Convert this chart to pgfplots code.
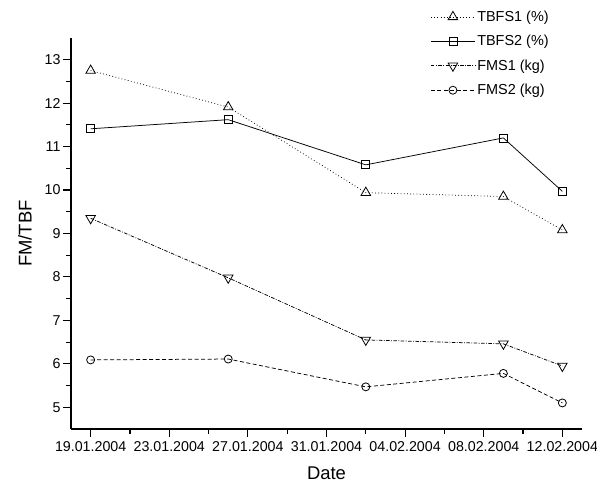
\documentclass[border=0pt]{standalone}
\usepackage{pgfplots}
\pgfplotsset{compat=1.18}
\usepackage{fontspec}
\setmainfont{Liberation Sans}
\begin{document}
\begin{tikzpicture}
\begin{axis}[
  name=ax,
  scale only axis,
  width=511bp, height=391bp,
  xmin=-1, xmax=25, ymin=4.5, ymax=13.5,
  axis lines=left,
  axis line style={-, line width=1.2bp},
  every tick/.style={line width=1.1bp, black},
  tick align=outside,
  major tick length=8bp, minor tick length=5bp,
  xtick={0,4,8,12,16,20,24},
  xticklabels={19.01.2004,23.01.2004,27.01.2004,31.01.2004,04.02.2004,08.02.2004,12.02.2004},
  minor x tick num=1,
  ytick={5,6,...,13},
  minor y tick num=1,
  /pgf/number format/assume math mode=true,
  tick label style={font=\fontsize{14.3}{16}\selectfont},
  xticklabel style={yshift=-1bp},
  yticklabel style={xshift=1bp},
  label style={font=\fontsize{18.5}{22}\selectfont},
  xlabel={Date}, ylabel={FM/TBF},
  xlabel style={yshift=-8bp},
  ylabel style={yshift=6bp},
  legend style={at={(rel axis cs:0.945,1.08)}, anchor=north east, draw=none, fill=none,
    font=\fontsize{14.5}{16}\selectfont, row sep=8.5bp},
  legend cell align=left,
  legend image code/.code={\draw[mark repeat=2,mark phase=2,#1] plot coordinates {(0bp,0bp) (22bp,0bp) (44bp,0bp)};},
  every axis plot/.append style={black, line width=0.75bp},
]
\addplot[dash pattern=on 0.8bp off 2.4bp, mark=triangle, mark size=5.5bp, mark options={solid, fill=white, line width=0.8bp}] coordinates {(0,12.75) (7,11.91) (14,9.94) (21,9.85) (24,9.08)};
\addlegendentry{TBFS1 (\%)}
\addplot[solid, mark=square, mark size=4bp, mark options={solid, fill=white, line width=0.8bp}] coordinates {(0,11.41) (7,11.62) (14,10.58) (21,11.2) (24,9.97)};
\addlegendentry{TBFS2 (\%)}
\addplot[dash pattern=on 3.5bp off 1.5bp on 0.8bp off 1.5bp, mark=triangle, mark size=5.5bp, mark options={solid, fill=white, line width=0.8bp, rotate=180}] coordinates {(0,9.35) (7,7.98) (14,6.55) (21,6.46) (24,5.95)};
\addlegendentry{FMS1 (kg)}
\addplot[dash pattern=on 4bp off 2.5bp, mark=o, mark size=4bp, mark options={solid, fill=white, line width=0.8bp}] coordinates {(0,6.09) (7,6.11) (14,5.47) (21,5.78) (24,5.10)};
\addlegendentry{FMS2 (kg)}
\end{axis}
\pgfresetboundingbox
\path[use as bounding box] ([shift={(-71bp,-54bp)}]ax.south west) rectangle ([shift={(15bp,38bp)}]ax.north east);
\end{tikzpicture}
\end{document}
